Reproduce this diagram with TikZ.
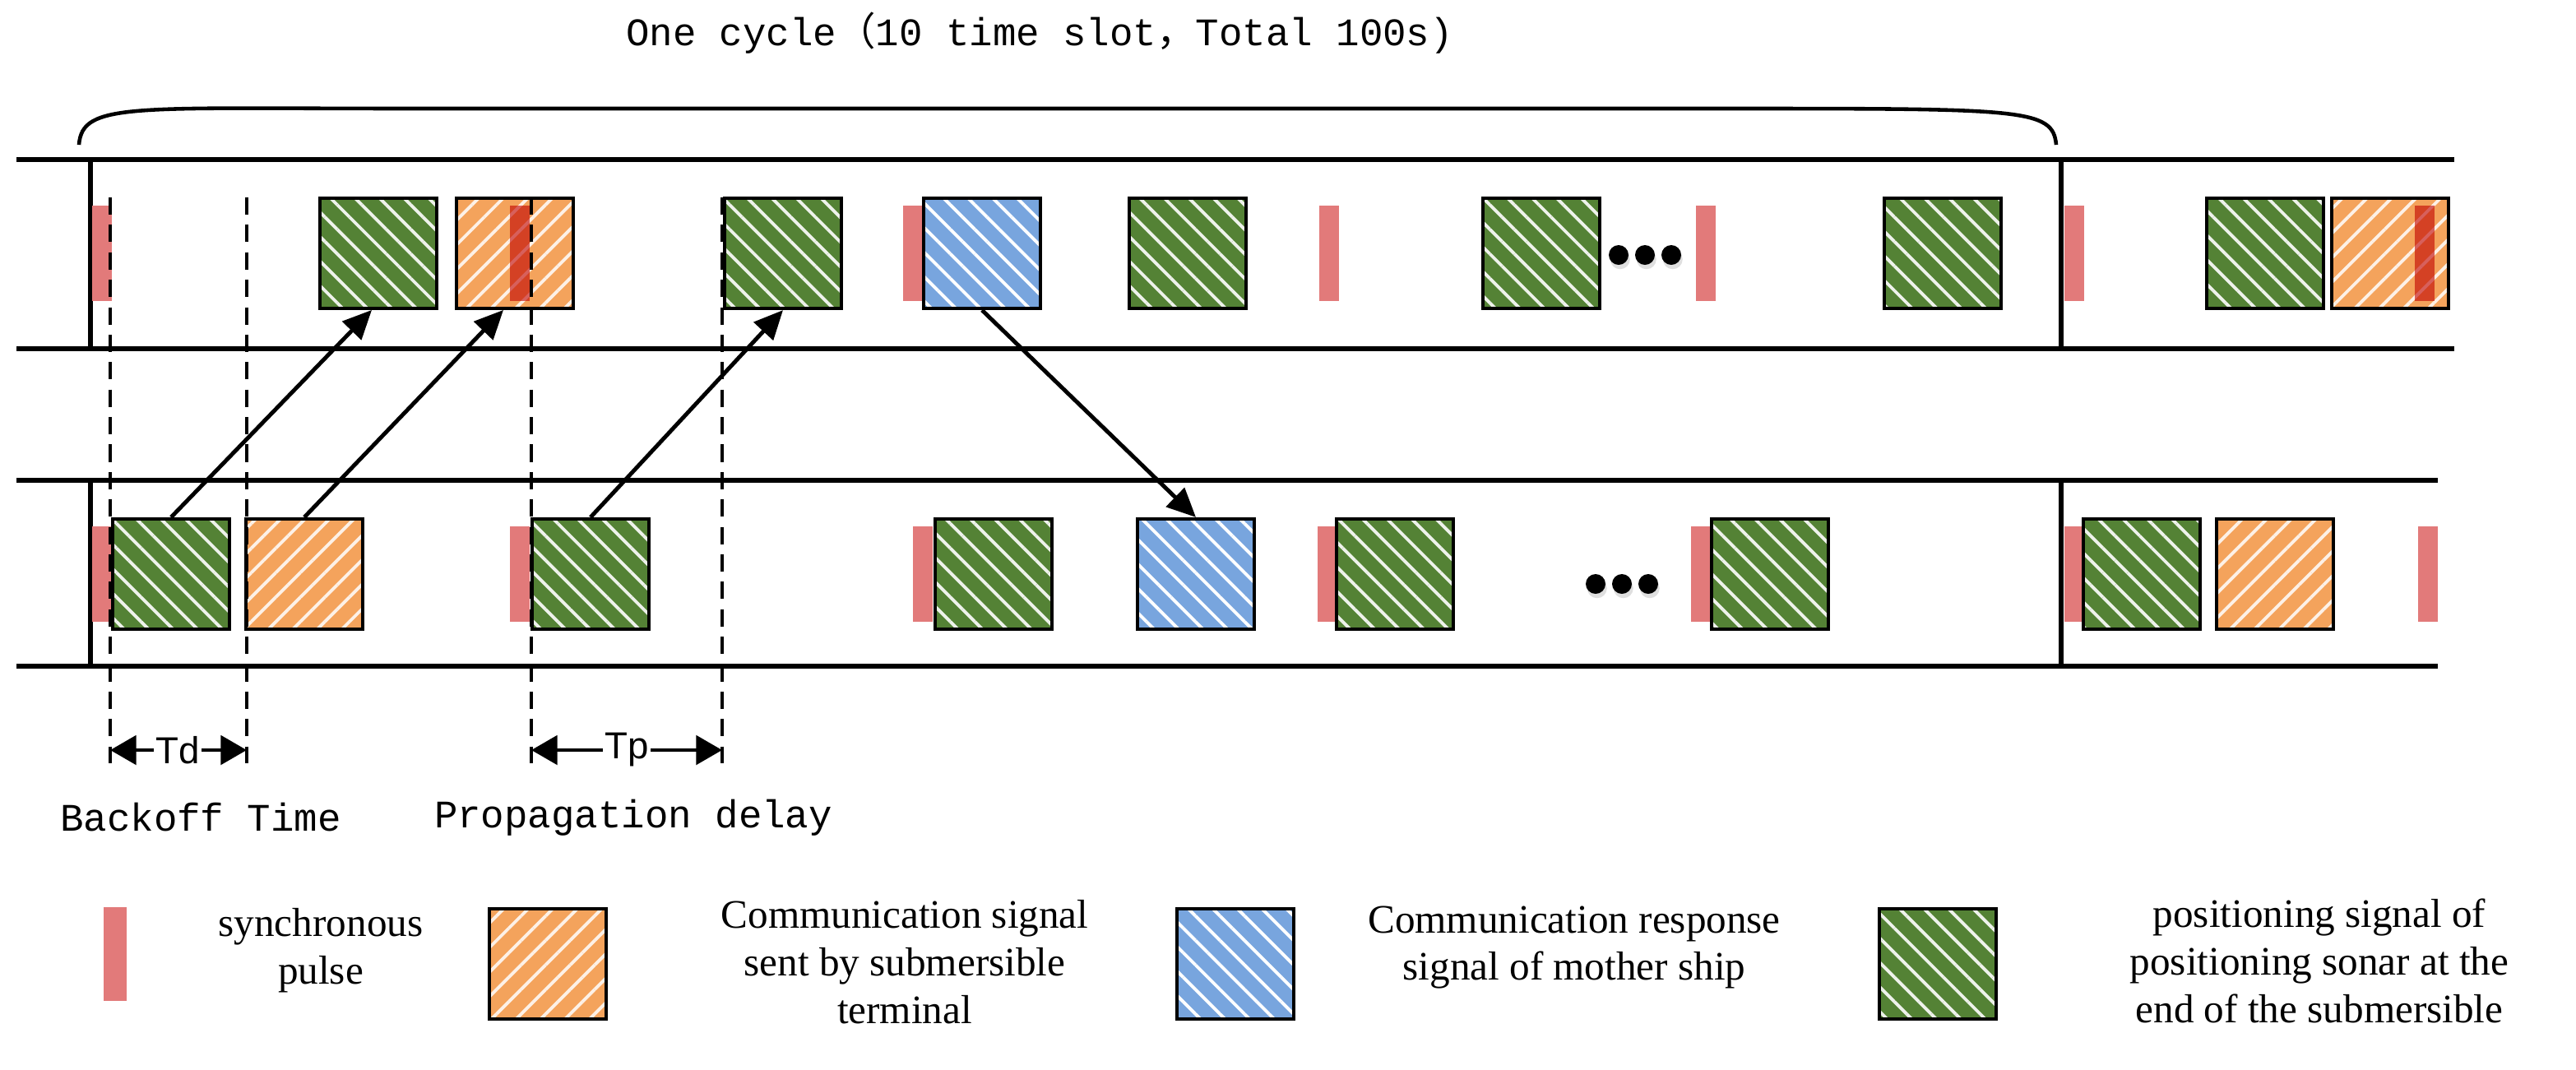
\documentclass[tikz,border=0pt]{standalone}
\usepackage{fontspec}
\setmainfont{Liberation Serif}
\setmonofont{Liberation Mono}
\setsansfont{Liberation Sans}
\newfontfamily\cjkfont{Noto Sans CJK SC}
\usetikzlibrary{patterns.meta,arrows.meta,shadows}

\definecolor{posgreen}{RGB}{84,130,53}
\definecolor{comorange}{RGB}{244,163,92}
\definecolor{resblue}{RGB}{120,165,222}
\definecolor{pulsered}{RGB}{226,122,122}

\tikzset{
  slot/.style={draw,line width=1.2pt,minimum width=1.42cm,minimum height=1.34cm,inner sep=0pt},
  posslot/.style={slot,preaction={fill=posgreen},pattern={Lines[angle=-45,distance=6pt,line width=1.1pt]},pattern color=white!90!posgreen},
  comslot/.style={slot,preaction={fill=comorange},pattern={Lines[angle=45,distance=6pt,line width=1.1pt]},pattern color=white!85!comorange},
  resslot/.style={slot,preaction={fill=resblue},pattern={Lines[angle=-45,distance=6pt,line width=1.1pt]},pattern color=white},
  pulse/.style={fill=pulsered,minimum width=0.24cm,minimum height=1.16cm,inner sep=0pt},
  dpulse/.style={pulse,fill=red!75!black,opacity=0.6},
  blackdot/.style={circle,fill=black,minimum size=0.24cm,inner sep=0pt,drop shadow={shadow xshift=0.5pt,shadow yshift=-1.5pt,opacity=0.25}},
  rail/.style={line width=1.6pt},
  link/.style={line width=1.4pt,-{Triangle[length=10pt,width=9pt]}},
  tmark/.style={line width=1.4pt,dash pattern=on 6pt off 3.5pt},
  span/.style={line width=1.4pt,-{Triangle[length=9pt,width=10pt]}},
  spantext/.style={font=\sffamily\fontsize{13}{15}\selectfont,fill=white,inner sep=0.5pt},
  monotext/.style={font=\ttfamily\fontsize{13.5}{16}\selectfont},
  legtext/.style={align=center,font=\fontsize{14}{16.5}\selectfont}
}

\begin{document}
\begin{tikzpicture}[x=0.02cm,y=-0.02cm]
  \useasboundingbox (0,0) rectangle (1566,650);

  % rails
  \coordinate (tl1) at (10,97);  \coordinate (tr1) at (1492,97);
  \coordinate (tl2) at (10,212); \coordinate (tr2) at (1492,212);
  \coordinate (bl1) at (10,292); \coordinate (br1) at (1482,292);
  \coordinate (bl2) at (10,405); \coordinate (br2) at (1482,405);
  \draw[rail] (tl1) -- (tr1) (tl2) -- (tr2) (bl1) -- (br1) (bl2) -- (br2);
  \foreach \x in {55,1253} {
    \draw[rail] (\x,97) -- (\x,212);
    \draw[rail] (\x,292) -- (\x,405);
  }

  % cycle brace
  \coordinate (c0) at (48,88);
  \coordinate (c1) at (1250,88);
  \draw[line width=1.3pt] (c0) .. controls (50,62) and (80,66) .. (250,66) -- (1050,66)
        .. controls (1230,66) and (1248,66) .. (c1);
  \node[monotext] (cyc) at (632,20) {One cycle{\cjkfont （}10 time slot{\cjkfont ，}Total 100s)};

  % ship row
  \node[pulse]   (tp0) at (62,154)   {};
  \node[posslot] (t1)  at (230,154)  {};
  \node[comslot] (t2)  at (313,154)  {};
  \node[dpulse]  (tp1) at (316,154)  {};
  \node[posslot] (t3)  at (476,154)  {};
  \node[pulse]   (tp2) at (555,154)  {};
  \node[resslot] (t4)  at (597,154)  {};
  \node[posslot] (t5)  at (722,154)  {};
  \node[pulse]   (tp3) at (808,154)  {};
  \node[posslot] (t6)  at (937,154)  {};
  \node[blackdot] (td1) at (984,155)  {};
  \node[blackdot] (td2) at (1000,155) {};
  \node[blackdot] (td3) at (1016,155) {};
  \node[pulse]   (tp4) at (1037,154) {};
  \node[posslot] (t7)  at (1181,154) {};
  \node[pulse]   (tp5) at (1261,154) {};
  \node[posslot] (t8)  at (1377,154) {};
  \node[comslot] (t9)  at (1453,154) {};
  \node[dpulse]  (tp6) at (1474,154) {};

  % submersible row
  \node[pulse]   (bp0) at (62,349)   {};
  \node[posslot] (b1)  at (104,349)  {};
  \node[comslot] (b2)  at (185,349)  {};
  \node[pulse]   (bp1) at (316,349)  {};
  \node[posslot] (b3)  at (359,349)  {};
  \node[pulse]   (bp2) at (561,349)  {};
  \node[posslot] (b4)  at (604,349)  {};
  \node[resslot] (b5)  at (727,349)  {};
  \node[pulse]   (bp3) at (807,349)  {};
  \node[posslot] (b6)  at (848,349)  {};
  \node[blackdot] (bd1) at (970,355)  {};
  \node[blackdot] (bd2) at (986,355)  {};
  \node[blackdot] (bd3) at (1002,355) {};
  \node[pulse]   (bp4) at (1034,349) {};
  \node[posslot] (b7)  at (1076,349) {};
  \node[pulse]   (bp5) at (1261,349) {};
  \node[posslot] (b8)  at (1302,349) {};
  \node[comslot] (b9)  at (1383,349) {};
  \node[pulse]   (bp6) at (1476,349) {};

  % signals
  \draw[link] (b1.north) -- ([xshift=-0.08cm]t1.south);
  \draw[link] (b2.north) -- ([xshift=-0.14cm]t2.south);
  \draw[link] (b3.north) -- (t3.south);
  \draw[link] (t4.south) -- (b5.north);

  % timing marks
  \foreach \x in {67,150,323,439}
    \draw[tmark] (\x,120) -- (\x,464);
  \coordinate (d0) at (67,456);  \coordinate (d1) at (150,456);
  \coordinate (p0) at (323,456); \coordinate (p1) at (439,456);
  \node[spantext] (td) at (108,456) {Td};
  \node[spantext] (tp) at (381,456) {Tp};
  \draw[span] (td.west) -- (d0);
  \draw[span] (td.east) -- (d1);
  \draw[span] (tp.west) -- (p0);
  \draw[span] (tp.east) -- (p1);
  \node[monotext] (bt) at (122,497) {Backoff Time};
  \node[monotext] (pd) at (385,497) {Propagation delay};

  % legend
  \node[pulse,minimum height=1.14cm,minimum width=0.28cm] (l1) at (70,580) {};
  \node[legtext] (l1t) at (195,578) {synchronous\\pulse};
  \node[comslot] (l2) at (333,586) {};
  \node[legtext] (l2t) at (550,585) {Communication signal\\sent by submersible\\terminal};
  \node[resslot] (l3) at (751,586) {};
  \node[legtext] (l3t) at (957,576) {Communication response\\signal of mother ship};
  \node[posslot] (l4) at (1178,586) {};
  \node[legtext] (l4t) at (1410,584) {positioning signal of\\positioning sonar at the\\end of the submersible};
\end{tikzpicture}
\end{document}
